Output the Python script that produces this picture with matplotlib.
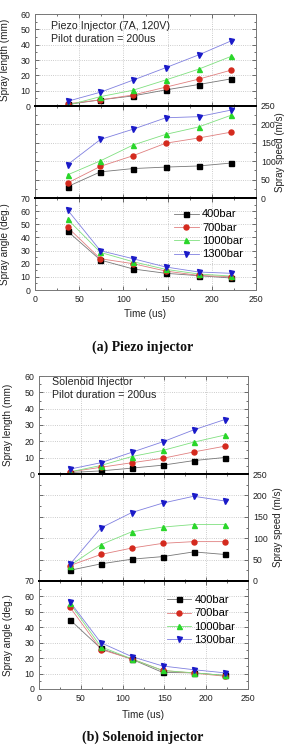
import matplotlib
matplotlib.use("Agg")
import matplotlib.pyplot as plt
import matplotlib.lines as mlines
from matplotlib.ticker import MultipleLocator

plt.rcParams['font.family'] = ['Liberation Sans', 'DejaVu Sans']

time_us = [37, 74, 111, 148, 185, 222]
pressures = ['400bar', '700bar', '1000bar', '1300bar']

# Piezo injector
piezo_length = {
    '400bar': [1.0, 4.0, 6.6, 10.5, 14.0, 17.7],
    '700bar': [1.5, 4.0, 7.2, 12.3, 17.5, 23.4],
    '1000bar': [0.5, 6.1, 10.3, 17.0, 24.0, 32.4],
    '1300bar': [3.1, 9.0, 16.9, 25.0, 33.3, 42.5],
}
piezo_speed = {
    '400bar': [31, 71, 80, 84, 87, 95],
    '700bar': [41, 86, 115, 149, 163, 179],
    '1000bar': [63, 101, 144, 173, 193, 225],
    '1300bar': [91, 159, 187, 218, 221, 239],
}
piezo_angle = {
    '400bar': [44.6, 22.8, 16.0, 12.7, 10.9, 9.1],
    '700bar': [47.6, 23.8, 20.0, 14.4, 11.1, 10.1],
    '1000bar': [53.7, 28.6, 21.5, 15.7, 12.2, 10.6],
    '1300bar': [60.8, 29.9, 23.8, 17.5, 13.7, 12.7],
}

# Solenoid injector
sol_length = {
    '400bar': [0.9, 1.9, 3.6, 5.4, 8.2, 10.1],
    '700bar': [1.3, 4.1, 6.9, 9.6, 13.5, 17.0],
    '1000bar': [1.3, 5.2, 10.7, 14.4, 19.5, 23.8],
    '1300bar': [3.0, 6.9, 13.3, 19.7, 27.0, 33.3],
}
sol_speed = {
    '400bar': [25, 40, 51, 57, 68, 62],
    '700bar': [36, 62, 77, 88, 92, 92],
    '1000bar': [36, 85, 115, 126, 132, 132],
    '1300bar': [39, 124, 160, 182, 198, 187],
}
sol_angle = {
    '400bar': [44.9, 26.3, 19.3, 10.7, 10.5, 8.8],
    '700bar': [53.0, 25.6, 19.5, 12.0, 10.3, 8.3],
    '1000bar': [55.5, 27.4, 19.5, 12.0, 10.5, 8.8],
    '1300bar': [56.5, 30.0, 21.0, 14.9, 12.5, 10.5],
}

titles = [["Piezo Injector (7A, 120V)", "Pilot duration = 200us"],
          ["Solenoid Injector", "Pilot duration = 200us"]]
captions = ["(a) Piezo injector", "(b) Solenoid injector"]

marker_colors = {'400bar': 'black', '700bar': '#d42a1e', '1000bar': '#2ad62a', '1300bar': '#1a1ac8'}
line_colors = {'400bar': '#777777', '700bar': '#e08080', '1000bar': '#80e080', '1300bar': '#8080e0'}
markers = {'400bar': 's', '700bar': 'o', '1000bar': '^', '1300bar': 'v'}

W, H = 285, 751
fig = plt.figure(figsize=(W / 100, H / 100), dpi=100)

panels = [
    dict(left=35, right=256, ys=[14, 106, 198, 290], data=(piezo_length, piezo_speed, piezo_angle),
         title_y=(0.873, 0.725), title_x=0.072, leg=(0.62, 0.90), cap_y=347, ylab_l=10, ylab_r=275,
         xlab_y=309),
    dict(left=39, right=248, ys=[376, 474, 581, 689], data=(sol_length, sol_speed, sol_angle),
         title_y=(0.935, 0.81), title_x=0.06, leg=(0.60, 0.89), cap_y=737, ylab_l=13, ylab_r=273,
         xlab_y=710),
]

tick_fs = 6.3
lab_fs = 7.2
grey = '#555555'

for pi, p in enumerate(panels):
    axes = []
    for k in range(3):
        top, bot = p['ys'][k], p['ys'][k + 1]
        ax = fig.add_axes([p['left'] / W, 1 - bot / H, (p['right'] - p['left']) / W, (bot - top) / H])
        axes.append(ax)
    length, speed, angle = p['data']
    ax1, ax2, ax3 = axes
    ax2r = ax2.twinx()

    for ax, d in [(ax1, length), (ax2r, speed), (ax3, angle)]:
        for pr in pressures:
            ax.plot(time_us, d[pr], '-', color=line_colors[pr], lw=0.6, zorder=2)
            ax.plot(time_us, d[pr], linestyle='none', marker=markers[pr], color=marker_colors[pr],
                    ms=3.6, mec=marker_colors[pr], zorder=3)

    for ax in axes + [ax2r]:
        ax.set_xlim(0, 250)
        ax.xaxis.set_major_locator(MultipleLocator(50))
        ax.xaxis.set_minor_locator(MultipleLocator(25))
        ax.tick_params(which='both', direction='in', top=True, right=True, labelsize=tick_fs,
                       colors=grey, labelcolor='#222222', width=0.6)
        ax.tick_params(which='major', length=3)
        ax.tick_params(which='minor', length=1.6)
        for s in ax.spines.values():
            s.set_color('#777777')
            s.set_linewidth(0.7)

    ax1.set_ylim(0, 60)
    ax1.yaxis.set_major_locator(MultipleLocator(10))
    ax1.yaxis.set_minor_locator(MultipleLocator(5))
    ax2.set_ylim(0, 250)
    ax2r.set_ylim(0, 250)
    for a in (ax2, ax2r):
        a.yaxis.set_major_locator(MultipleLocator(50))
        a.yaxis.set_minor_locator(MultipleLocator(25))
    ax3.set_ylim(0, 70)
    ax3.yaxis.set_major_locator(MultipleLocator(10))
    ax3.yaxis.set_minor_locator(MultipleLocator(5))

    ax1.tick_params(labelbottom=False)
    ax2.tick_params(labelbottom=False, labelleft=False, right=False, labelright=False)
    ax2r.tick_params(labelleft=False, left=False, labelright=True, top=False, bottom=False)
    ax2.tick_params(which='minor', right=False)
    ax3.tick_params(labelbottom=True)

    for ax in (ax1, ax2, ax3):
        ax.grid(True, which='major', linestyle=':', color='#bbbbbb', lw=0.6)
        ax.set_axisbelow(True)

    # thick separators
    for a, sides in [(ax1, ['bottom']), (ax2, ['top', 'bottom']), (ax3, ['top']),
                     (ax2r, ['top', 'bottom'])]:
        for sd in sides:
            a.spines[sd].set_color('black')
            a.spines[sd].set_linewidth(1.4)

    ax1.set_ylabel('Spray length (mm)', fontsize=lab_fs, color='#222222')
    ax3.set_ylabel('Spray angle (deg.)', fontsize=lab_fs, color='#222222')
    ax2r.set_ylabel('Spray speed (m/s)', fontsize=7.0, color='#222222')
    ax3.set_xlabel('Time (us)', fontsize=lab_fs, color='#222222')
    ax1.yaxis.set_label_coords((p['ylab_l'] - p['left']) / (p['right'] - p['left']), 0.5)
    ax3.yaxis.set_label_coords((p['ylab_l'] - p['left']) / (p['right'] - p['left']), 0.5)
    ax2r.yaxis.set_label_coords((p['ylab_r'] - p['left']) / (p['right'] - p['left']), 0.5)
    h3 = p['ys'][3] - p['ys'][2]
    ax3.xaxis.set_label_coords(0.5, -(p['xlab_y'] - p['ys'][3]) / h3)

    for t, yy in zip(titles[pi], p['title_y']):
        ax1.text(p['title_x'], yy, t, transform=ax1.transAxes, fontsize=7.7, va='center',
                 ha='left', color='#222222')

    handles = [mlines.Line2D([], [], color=line_colors[pr], lw=0.6, marker=markers[pr],
                             mfc=marker_colors[pr], mec=marker_colors[pr], ms=3.6)
               for pr in pressures]
    ax3.legend(handles, pressures, loc='upper left', bbox_to_anchor=p['leg'], frameon=False,
               fontsize=8, handlelength=2.2, handletextpad=0.3, labelspacing=0.3,
               borderaxespad=0, borderpad=0.2)

    fig.text(0.5, 1 - p['cap_y'] / H, captions[pi], ha='center', va='center', fontsize=10,
             family=['Liberation Serif', 'DejaVu Serif'], fontweight='bold', color='#111111')

fig.savefig('out.png', dpi=100)
